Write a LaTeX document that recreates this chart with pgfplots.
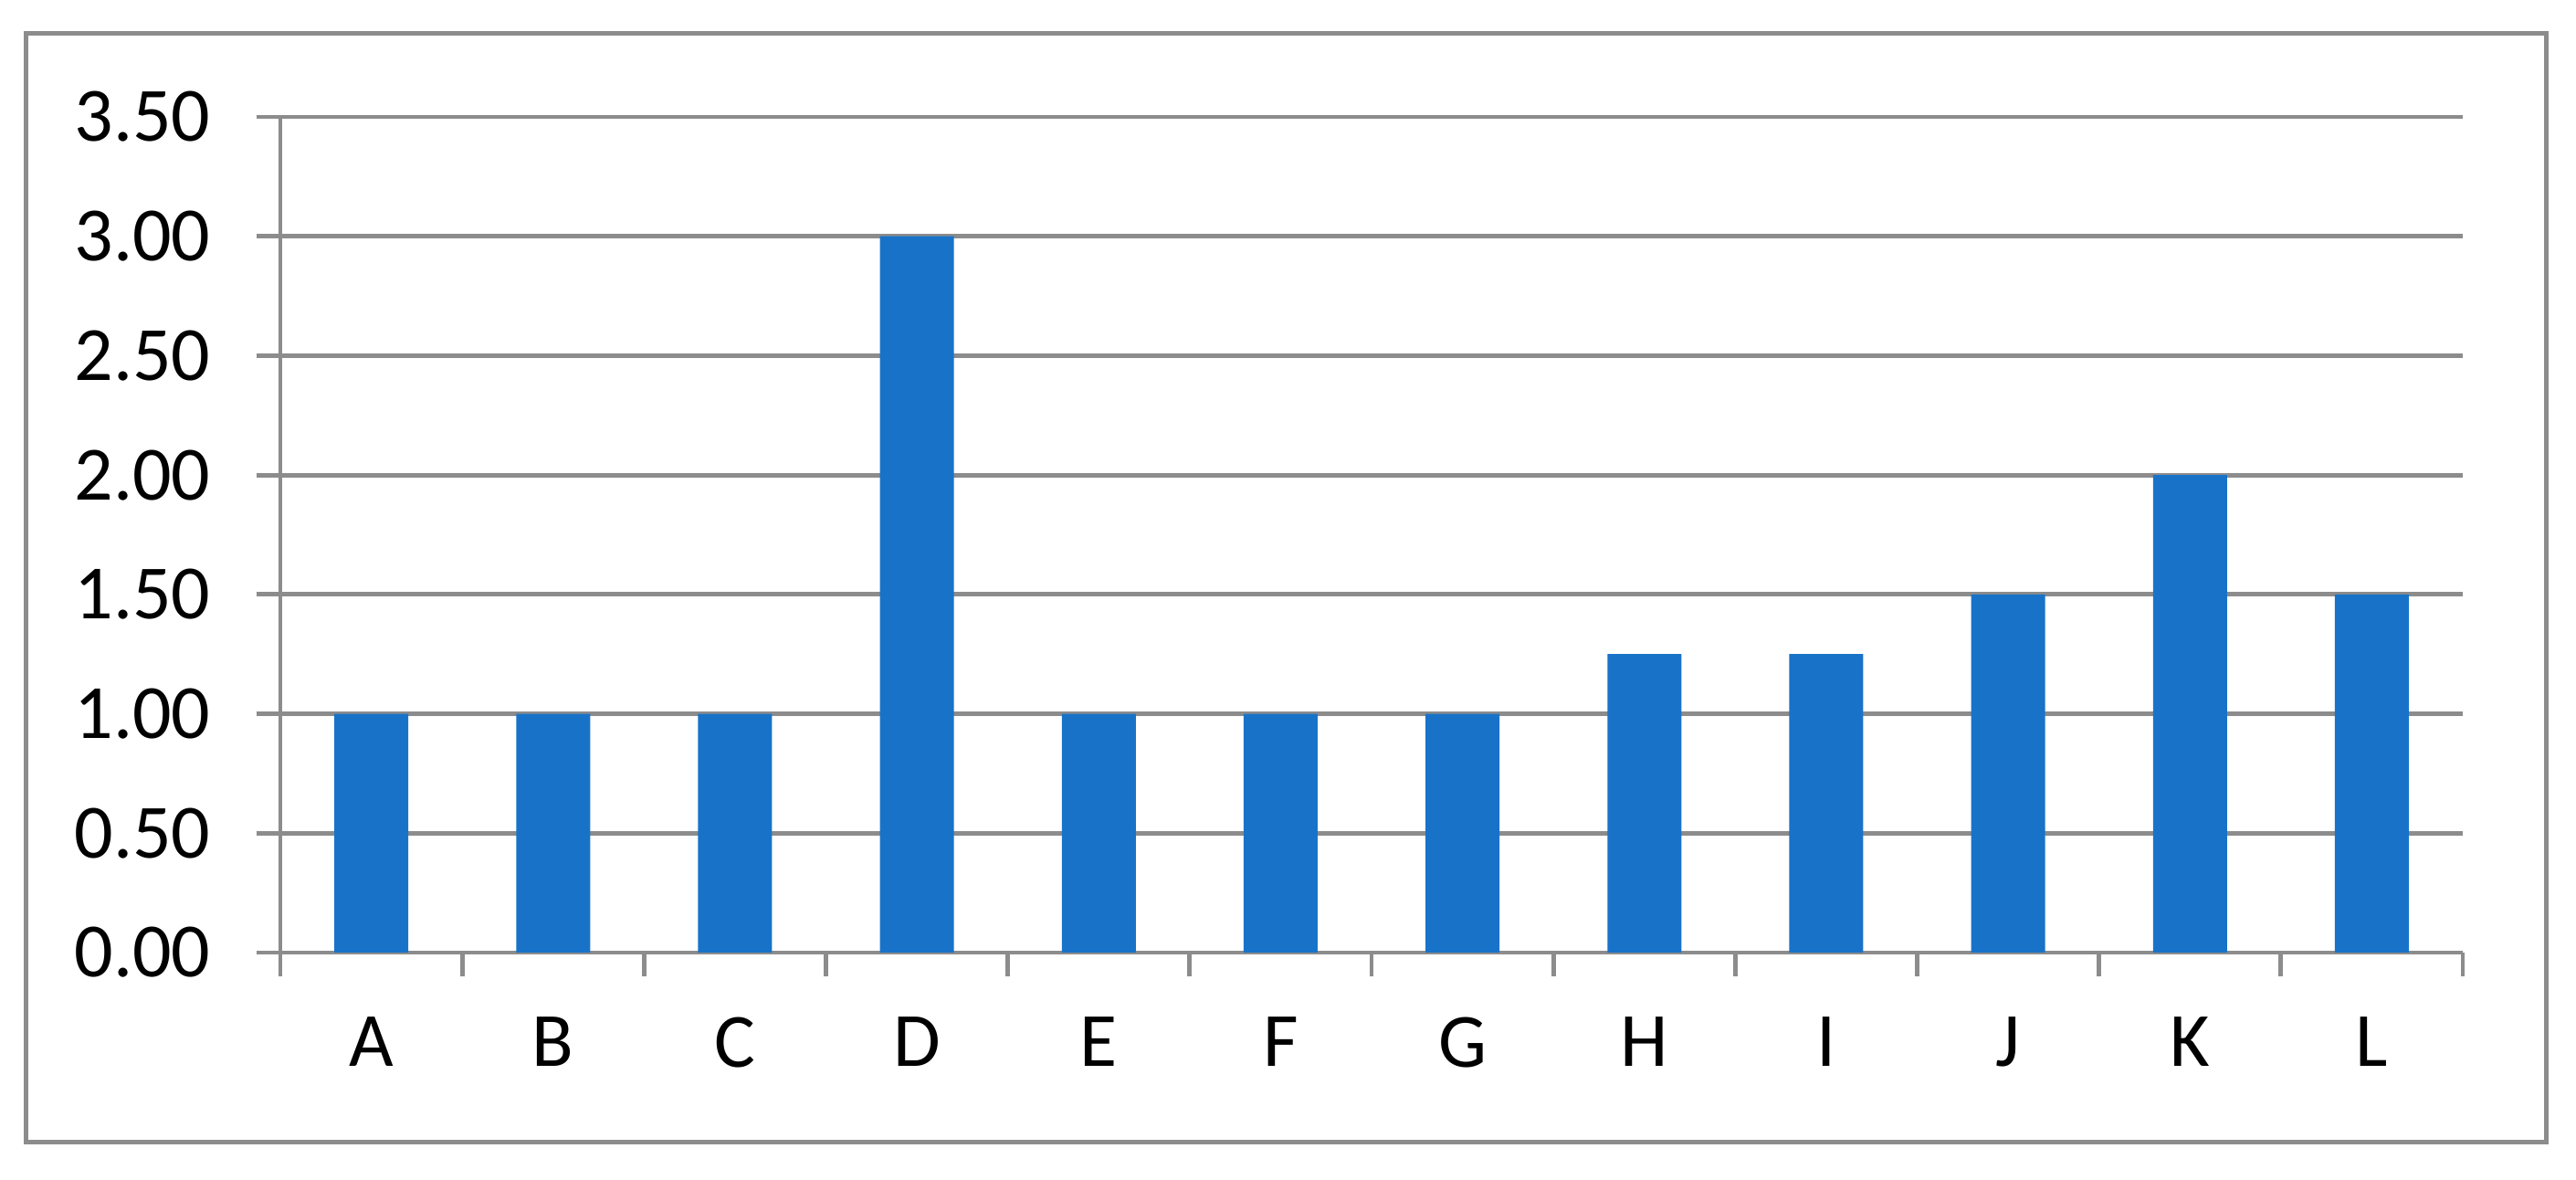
\documentclass[border=0pt]{standalone}
\usepackage{fontspec}
\setmainfont{Carlito}
\usepackage{pgfplots}
\pgfplotsset{compat=1.18}
\definecolor{barblue}{RGB}{24,115,200}
\definecolor{linegray}{RGB}{140,140,140}

\begin{document}
\begin{tikzpicture}
  % page size and outer frame
  \path[use as bounding box] (0,0) rectangle (705.25pt,323pt);
  \draw[linegray, line width=1.25pt] (7.1pt,10.4pt) rectangle (697pt,313.9pt);
  \begin{axis}[
    at={(76.75pt,62.25pt)}, anchor=south west,
    scale only axis, width=597.5pt, height=228.75pt,
    xmin=-0.5, xmax=11.5, ymin=0, ymax=3.5,
    axis x line*=bottom, axis y line*=left,
    axis line style={linegray, line width=1.2pt},
    xtick={-0.5,0.5,...,11.5},
    x tick label as interval,
    xticklabels={A,B,C,D,E,F,G,H,I,J,K,L},
    ytick={0,0.5,...,3.5},
    ymajorgrids,
    grid style={linegray, line width=1.2pt},
    tick align=outside,
    major tick length=6.6pt,
    tick style={linegray, line width=1.2pt},
    ticklabel style={font=\fontsize{21}{25}\selectfont},
    yticklabel style={xshift=-9pt},
    xticklabel style={yshift=-7.6pt},
    /pgf/number format/assume math mode=true,
    yticklabel={\pgfmathprintnumber[fixed,fixed zerofill,precision=2]{\tick}},
  ]
    \addplot[ybar, bar width=20.25pt, fill=barblue, draw=none] coordinates {
      (0,1) (1,1) (2,1) (3,3) (4,1) (5,1) (6,1) (7,1.25) (8,1.25) (9,1.5) (10,2) (11,1.5)
    };
  \end{axis}
\end{tikzpicture}
\end{document}
